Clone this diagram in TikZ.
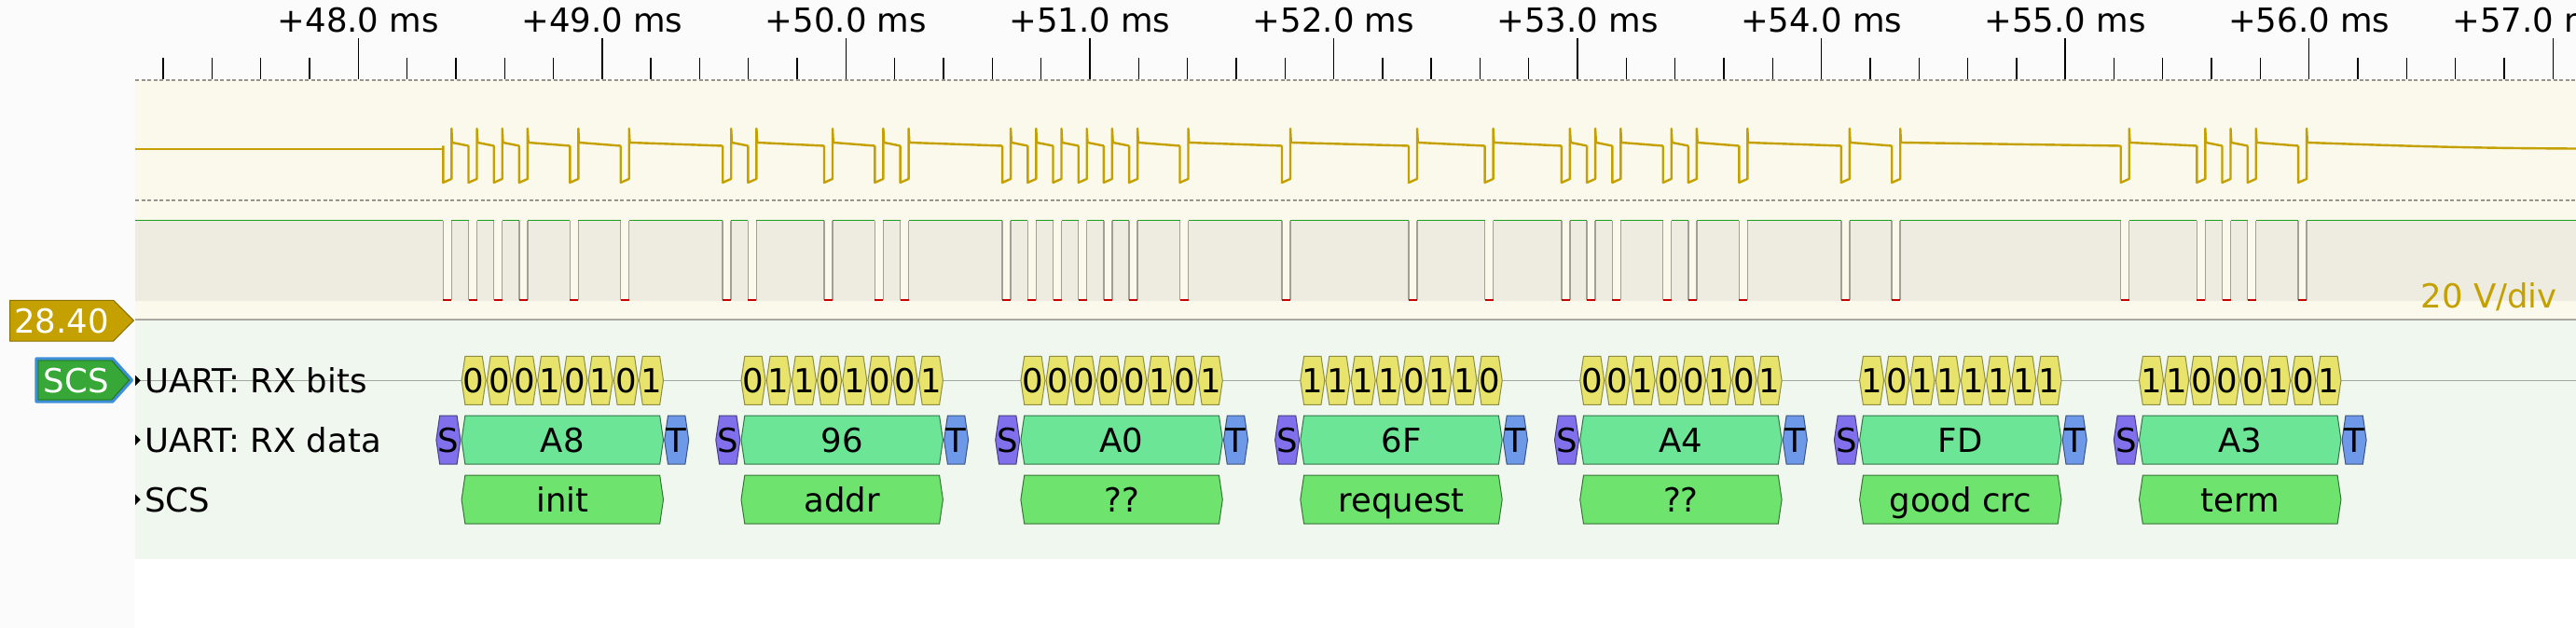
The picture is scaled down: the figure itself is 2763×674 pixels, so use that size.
\documentclass[tikz,border=0pt]{standalone}
\usepackage{fontspec}
\setmainfont{DejaVu Sans}
\definecolor{panelbg}{RGB}{251,251,251}
\definecolor{creambg}{RGB}{251,249,236}
\definecolor{logicbg}{RGB}{238,236,224}
\definecolor{decbg}{RGB}{239,247,239}
\definecolor{dashgray}{RGB}{150,150,140}
\definecolor{sepgray}{RGB}{168,168,160}
\definecolor{rowgray}{RGB}{160,168,160}
\definecolor{gold}{RGB}{196,160,0}
\definecolor{golddark}{RGB}{140,112,0}
\definecolor{higreen}{RGB}{30,160,30}
\definecolor{edgegray}{RGB}{160,160,150}
\definecolor{lowred}{RGB}{200,0,0}
\definecolor{scsgreen}{RGB}{55,168,55}
\definecolor{scsdark}{RGB}{30,110,30}
\definecolor{selblue}{RGB}{60,143,216}
\definecolor{bitfill}{RGB}{231,227,107}
\definecolor{sfill}{RGB}{128,112,235}
\definecolor{dfill}{RGB}{108,230,150}
\definecolor{tfill}{RGB}{110,152,232}
\definecolor{cfill}{RGB}{110,228,110}
\newcommand\annhex[6]{%
  \draw[#5] ({#2+0.6},#4) -- ({#2+4.4},{#4-26}) -- ({#3-4.4},{#4-26}) -- ({#3-0.6},#4) -- ({#3-4.4},{#4+26}) -- ({#2+4.4},{#4+26}) -- cycle;
  \node[lbl, anchor=base] (#1) at ({(#2+#3)/2},{#4+13}) {#6};
}
\tikzset{
  lbl/.style={font=\fontsize{35.5}{40}\selectfont, inner sep=0pt},
  dashln/.style={draw=dashgray, line width=1.2pt, dash pattern=on 4pt off 2.5pt},
  ticksty/.style={draw=black, line width=1.4pt},
  hiline/.style={draw=higreen, line width=1.5pt},
  edgeln/.style={draw=edgegray, line width=1.5pt},
  lowln/.style={draw=lowred, line width=1.5pt},
  ana/.style={draw=gold, line width=2.4pt, line join=round},
  rowln/.style={draw=rowgray, line width=1.4pt},
  annB/.style={fill=bitfill, draw=bitfill!62!black, line width=1pt},
  annS/.style={fill=sfill, draw=sfill!55!black, line width=1pt},
  annD/.style={fill=dfill, draw=dfill!50!black, line width=1pt},
  annT/.style={fill=tfill, draw=tfill!55!black, line width=1pt},
  annC/.style={fill=cfill, draw=cfill!50!black, line width=1pt},
}
\begin{document}
\begin{tikzpicture}[x=1pt,y=-1pt]
\useasboundingbox (0,0) rectangle (2763,674);
\clip (0,0) rectangle (2763,674);
% backgrounds
\fill[panelbg] (0,0) rectangle (2763,674);
\fill[white] (145,600) rectangle (2763,674);
\fill[creambg] (145,86) rectangle (2763,343);
\fill[logicbg] (145,236.7) rectangle (2763,322.7);
\fill[decbg] (145,343) rectangle (2763,600);
\draw[dashln] (145,86) -- (2763,86);
\draw[dashln] (145,215) -- (2763,215);
\draw[draw=sepgray, line width=2pt] (145,343) -- (2763,343);
% ruler
\foreach \i in {0,...,49} {
  \pgfmathsetmacro\tx{384.3+52.31*(\i-4)}
  \pgfmathtruncatemacro\m{mod(\i,5)}
  \ifnum\m=4 \draw[ticksty] (\tx,40.7) -- (\tx,85); \else \draw[ticksty] (\tx,62) -- (\tx,85); \fi
}
\foreach \t [count=\k from 0] in {48,...,56} {
  \node[lbl, anchor=base] (ruler\k) at ({384.3+261.55*\k},34.5) {+\t.0 ms};
}
\node[lbl, anchor=base] (ruler9) at (2717,34.5) {+57.0 ms};
% logic trace
\draw[hiline] (145,236.7) -- (2763,236.7);
\foreach \p in {475.3,502.5,529.7,556.9,611.3,665.7,775.2,802.4,884.0,938.4,965.6,1075.1,1102.3,1129.5,1156.7,1183.9,1211.1,1265.5,1375.0,1511.0,1592.6,1674.9,1702.1,1729.3,1783.7,1810.9,1865.3,1974.8,2029.2,2274.7,2356.3,2383.5,2410.7,2465.1} {
  \fill[creambg] (\p,235) rectangle ({\p+9},322.7);
  \draw[edgeln] (\p,236.7) -- (\p,322.2) ({\p+9},236.7) -- ({\p+9},322.2);
  \draw[lowln] (\p,322) -- ({\p+9},322);
}
% analog trace
\draw[ana] (145,160) -- (475.3,160);
\foreach \p [remember=\p as \q (initially -1)] in {475.3,502.5,529.7,556.9,611.3,665.7,775.2,802.4,884.0,938.4,965.6,1075.1,1102.3,1129.5,1156.7,1183.9,1211.1,1265.5,1375.0,1511.0,1592.6,1674.9,1702.1,1729.3,1783.7,1810.9,1865.3,1974.8,2029.2,2274.7,2356.3,2383.5,2410.7,2465.1} {
  \ifdim\q pt<0pt \else \draw[ana] ({\q+9.8},153) -- (\p,156.5); \fi
  \draw[ana] (\p,156.5) -- (\p,196) -- ({\p+9},192) -- ({\p+9},138) -- ({\p+9.8},153);
}
\draw[ana] (2474.9,153) .. controls (2600,157.5) and (2660,159) .. (2763,159.5);
\node[lbl, text=gold, anchor=base east] (vdiv) at (2743,330) {20 V/div};
% decoder rows
\draw[rowln] (145,408.3) -- (2763,408.3);
\foreach \y/\t [count=\r] in {408.3/UART: RX bits, 472.2/UART: RX data, 536.2/SCS} {
  \fill[black] (145,{\y-5.8}) -- (150.7,\y) -- (145,{\y+5.8}) -- cycle;
  \node[lbl, anchor=base west] (row\r) at (155,{\y+13}) {\t};
}
\foreach \s/\bits/\hx/\lb [count=\k] in {467.3/{0,0,0,1,0,1,0,1}/A8/init, 767.2/{0,1,1,0,1,0,0,1}/96/addr, 1067.1/{0,0,0,0,0,1,0,1}/A0/??, 1367.0/{1,1,1,1,0,1,1,0}/6F/request, 1666.9/{0,0,1,0,0,1,0,1}/A4/??, 1966.8/{1,0,1,1,1,1,1,1}/FD/good crc, 2266.7/{1,1,0,0,0,1,0,1}/A3/term} {
  \foreach \b [count=\i from 0] in \bits {
    \pgfmathsetmacro\xa{\s+27.2*(\i+1)}
    \pgfmathsetmacro\xb{\xa+27.2}
    \annhex{bit\k-\i}{\xa}{\xb}{408.3}{annB}{\b}
  }
  \pgfmathsetmacro\xs{\s+27.2}
  \pgfmathsetmacro\xt{\s+244.8}
  \pgfmathsetmacro\xe{\s+272}
  \annhex{st\k}{\s}{\xs}{472.2}{annS}{S}
  \annhex{dat\k}{\xs}{\xt}{472.2}{annD}{\hx}
  \annhex{tp\k}{\xt}{\xe}{472.2}{annT}{T}
  \annhex{scs\k}{\xs}{\xt}{536.2}{annC}{\lb}
}
% left labels
\draw[fill=gold, draw=golddark, line width=1pt] (10.7,322.3) -- (121.7,322.3) -- (143.3,344) -- (121.7,366) -- (10.7,366) -- cycle;
\node[lbl, text=white, anchor=base] (vlabel) at (66,357) {28.40};
\draw[fill=scsgreen, draw=selblue, line width=3.2pt, line join=round] (38.9,384.9) -- (120.7,384.9) -- (141.5,408) -- (120.7,431.1) -- (38.9,431.1) -- cycle;
\draw[draw=scsdark, line width=0.8pt] (41,387) -- (119.8,387) -- (138.5,408) -- (119.8,429) -- (41,429) -- cycle;
\node[lbl, text=white, anchor=base] (scslabel) at (81.7,421) {SCS};
\end{tikzpicture}
\end{document}
